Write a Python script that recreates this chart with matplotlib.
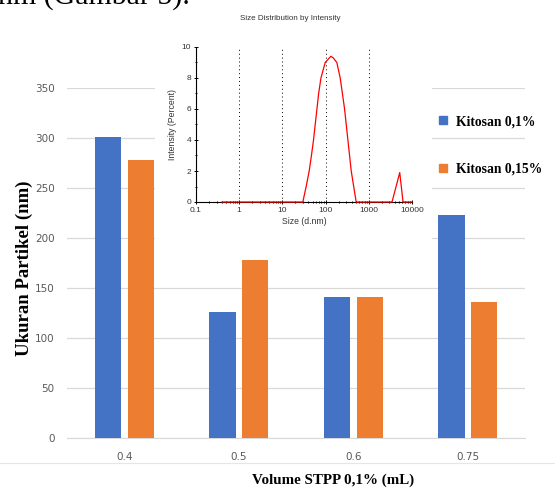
import matplotlib.pyplot as plt
import numpy as np
from matplotlib.patches import Rectangle
from matplotlib.lines import Line2D
from matplotlib.ticker import FixedLocator, NullFormatter

# bar chart data
volumes = ['0.4', '0.5', '0.6', '0.75']
kitosan_01 = [301, 126, 141, 223]
kitosan_015 = [278, 178, 141, 136]
y_ticks = [0, 50, 100, 150, 200, 250, 300, 350]

# inset: size distribution by intensity
size_dnm = [0.4, 29.7, 35.5, 41.7, 47, 52.5, 57.5, 63, 69, 78, 98, 132,
            150, 182, 218, 275, 328, 392, 510, 3450, 5200, 6200, 10000]
intensity = [0, 0, 1, 2, 3, 4, 5, 6, 7, 8, 9, 9.4,
             9.3, 9, 8, 6, 4, 2, 0, 0, 1.9, 0, 0]

W, H = 555, 488
fig = plt.figure(figsize=(W / 100, H / 100), dpi=100)


def px(x0, y0, x1, y1):
    # pixel box (top-left origin) -> figure fraction rect
    return [x0 / W, (H - y1) / H, (x1 - x0) / W, (y1 - y0) / H]


serif = 'Liberation Serif'
blue = '#4472C4'
orange = '#ED7D31'
grid_c = '#D9D9D9'
lab_c = '#595959'

ax = fig.add_axes(px(67, 88, 525, 438))
x = np.arange(len(volumes))
bw = 0.228
ax.bar(x - 0.142, kitosan_01, bw, color=blue, label='Kitosan 0,1%', zorder=3)
ax.bar(x + 0.145, kitosan_015, bw, color=orange, label='Kitosan 0,15%', zorder=3)
ax.set_xlim(-0.5, len(volumes) - 0.5)
ax.set_ylim(0, 350)
ax.set_yticks(y_ticks)
ax.set_xticks(x)
ax.set_xticklabels(volumes)
ax.yaxis.grid(True, color=grid_c, lw=0.9)
ax.set_axisbelow(True)
for s in ['top', 'right', 'left']:
    ax.spines[s].set_visible(False)
ax.spines['bottom'].set_color(grid_c)
ax.tick_params(axis='both', length=0, labelsize=7.5, colors=lab_c)
ax.tick_params(axis='y', pad=9)
ax.tick_params(axis='x', pad=10)
fig.text(24 / W, 1 - 268 / H, 'Ukuran Partikel (nm)', fontfamily=serif,
         fontweight='bold', fontsize=13.5, rotation=90, ha='center', va='center')
fig.text(333 / W, 1 - 480 / H, 'Volume STPP 0,1% (mL)', fontfamily=serif,
         fontweight='bold', fontsize=10.8, ha='center', va='center')

handles = [Line2D([], [], ls='', marker='s', ms=6, color=blue),
           Line2D([], [], ls='', marker='s', ms=6, color=orange)]
leg = ax.legend(handles, ['Kitosan 0,1%', 'Kitosan 0,15%'], frameon=False,
                loc='upper left', bbox_to_anchor=(425 / W, 1 - 103 / H),
                bbox_transform=fig.transFigure, labelspacing=2.55,
                handlelength=0.8, handletextpad=0.6,
                prop={'family': serif, 'weight': 'bold', 'size': 9.8})

# faint frame line under the chart
fig.add_artist(Line2D([0, 1], [1 - 463 / H, 1 - 463 / H], color='#E6E6E6', lw=0.8))

# white backdrop of the pasted inset
fig.patches.append(Rectangle((155 / W, 1 - 245 / H), 277 / W, 245 / H,
                             transform=fig.transFigure, facecolor='white',
                             edgecolor='none', zorder=1))

sans = 'Liberation Sans'
ins = fig.add_axes(px(196, 47, 412, 202), zorder=2)
ins.patch.set_alpha(0)
ins.plot(size_dnm, intensity, color='red', lw=0.9, zorder=3, clip_on=False)
ins.set_xscale('log')
ins.set_xlim(0.1, 10000)
ins.set_ylim(0, 10)
ins.set_xticks([0.1, 1, 10, 100, 1000, 10000])
ins.set_xticklabels(['0.1', '1', '10', '100', '1000', '10000'])
ins.xaxis.set_minor_locator(FixedLocator(
    [m * 10.0 ** e for e in range(-1, 4) for m in range(2, 10)]))
ins.xaxis.set_minor_formatter(NullFormatter())
ins.set_yticks([0, 2, 4, 6, 8, 10])
ins.set_yticks(range(11), minor=True)
for xv in [1, 10, 100, 1000, 10000]:
    ins.axvline(xv, color='black', ls=(0, (1, 3)), lw=0.7, zorder=1)
ins.spines['top'].set_visible(False)
ins.spines['right'].set_visible(False)
ins.tick_params(which='both', direction='inout', length=3, width=0.7,
                labelsize=6, pad=2)
ins.tick_params(which='minor', length=2)
for t in ins.get_xticklabels() + ins.get_yticklabels():
    t.set_fontfamily(sans)
    t.set_color('#333333')
ins.set_xlabel('Size (d.nm)', fontfamily=sans, fontsize=6.2, labelpad=2, color='#333333')
ins.set_ylabel('Intensity (Percent)', fontfamily=sans, fontsize=6.2, labelpad=3, color='#333333')
fig.text(290 / W, 1 - 18 / H, 'Size Distribution by Intensity', fontfamily=sans,
         fontsize=5.8, ha='center', va='center', color='#333333', zorder=3)

# clipped caption line from the page above
fig.text(-2 / W, 1 - 4 / H, 'nm (Gambar 5).', fontfamily=serif, fontsize=21.5,
         ha='left', va='baseline', zorder=3)

fig.savefig('out.png', dpi=100)
